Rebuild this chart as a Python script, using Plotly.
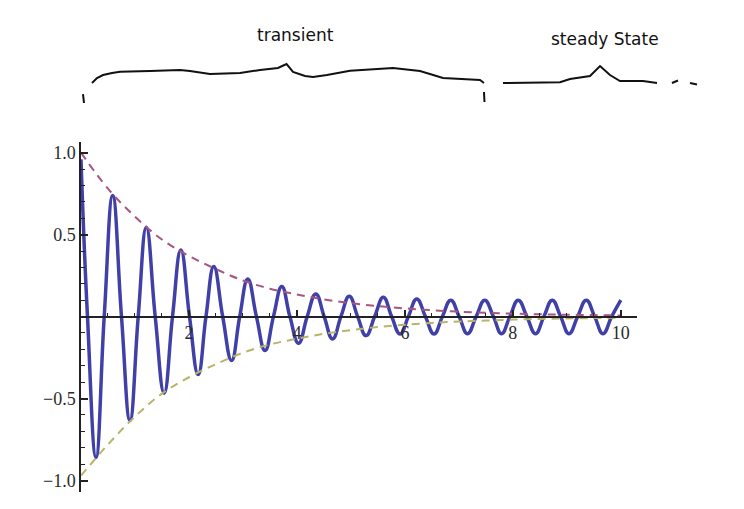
import plotly.graph_objects as go

# ---- data ----
# damped oscillation: extrema and zero crossings (t, y)
curve_t = [0.00, 0.12, 0.278, 0.43, 0.587, 0.75, 0.907, 1.06, 1.21, 1.375,
           1.54, 1.695, 1.85, 2.01, 2.17, 2.315, 2.46, 2.625, 2.79, 2.94,
           3.09, 3.25, 3.41, 3.565, 3.72, 3.87, 4.03, 4.19, 4.35, 4.505,
           4.66, 4.815, 4.97, 5.125, 5.28, 5.44, 5.60, 5.755, 5.91, 6.065,
           6.22, 6.38, 6.54, 6.695, 6.85, 7.005, 7.16, 7.32, 7.48, 7.64,
           7.79, 7.945, 8.10, 8.26, 8.42, 8.575, 8.73, 8.885, 9.04, 9.20,
           9.36, 9.515, 9.67, 9.83, 10.0]
curve_y = [0.96, 0.0, -0.858, 0.0, 0.738, 0.0, -0.634, 0.0, 0.545, 0.0,
           -0.467, 0.0, 0.406, 0.0, -0.354, 0.0, 0.305, 0.0, -0.268, 0.0,
           0.23, 0.0, -0.207, 0.0, 0.183, 0.0, -0.163, 0.0, 0.138, 0.0,
           -0.136, 0.0, 0.124, 0.0, -0.116, 0.0, 0.118, 0.0, -0.106, 0.0,
           0.108, 0.0, -0.106, 0.0, 0.10, 0.0, -0.104, 0.0, 0.10, 0.0,
           -0.104, 0.0, 0.10, 0.0, -0.104, 0.0, 0.10, 0.0, -0.104, 0.0,
           0.10, 0.0, -0.104, 0.0, 0.10]

# envelopes
env_t = [0, 0.5, 1, 1.5, 2, 2.5, 3, 3.5, 4, 4.5, 5, 5.5, 6, 6.5, 7, 7.5,
         8, 8.5, 9, 9.5, 10]
env_upper = [1.0, 0.78, 0.61, 0.47, 0.37, 0.29, 0.22, 0.17, 0.135, 0.105,
             0.082, 0.064, 0.05, 0.039, 0.03, 0.024, 0.018, 0.014, 0.011,
             0.009, 0.007]
env_lower = [-0.97, -0.78, -0.61, -0.47, -0.37, -0.29, -0.22, -0.17, -0.135,
             -0.105, -0.082, -0.064, -0.05, -0.039, -0.03, -0.024, -0.018,
             -0.014, -0.011, -0.009, -0.007]

x_tickvals = [2, 4, 6, 8, 10]
x_ticktext = ["2", "4", "6", "8", "10"]
y_tickvals = [-1.0, -0.5, 0.5, 1.0]
y_ticktext = ["\u22121.0", "\u22120.5", "0.5", "1.0"]

label_transient = "transient"
label_steady = "steady State"

# ---- figure ----
OFF = 8  # page body margin
W, H = 744 - OFF, 509 - OFF
L, R, T, B = 81 - OFF, 107, 142 - OFF, 17
PW, PH = W - L - R, H - T - B

fig = go.Figure()
fig.add_trace(go.Scatter(x=curve_t, y=curve_y, mode="lines",
                         line=dict(color="#4040a8", width=3.5, shape="spline",
                                   smoothing=1.3),
                         hoverinfo="skip", showlegend=False))
fig.add_trace(go.Scatter(x=env_t, y=env_upper, mode="lines",
                         line=dict(color="#a85580", width=2, dash="8px,6px",
                                   shape="spline"),
                         hoverinfo="skip", showlegend=False))
fig.add_trace(go.Scatter(x=env_t, y=env_lower, mode="lines",
                         line=dict(color="#b8b468", width=2, dash="8px,6px",
                                   shape="spline"),
                         hoverinfo="skip", showlegend=False))

tick_font = dict(family="Liberation Serif, DejaVu Serif, serif", size=18,
                 color="#2a2a2a")

fig.update_layout(
    width=W, height=H,
    margin=dict(l=L, r=R, t=T, b=B, pad=0),
    paper_bgcolor="white", plot_bgcolor="white",
    showlegend=False,
    xaxis=dict(range=[0, 10.3], showgrid=False, zeroline=False,
               showline=True, linecolor="#222", linewidth=1.5,
               anchor="free", position=1.07 / 2.135, side="bottom",
               tickmode="array", tickvals=x_tickvals, ticktext=x_ticktext,
               ticks="inside", ticklen=6, tickwidth=1.5, tickcolor="#222",
               tickfont=tick_font,
               minor=dict(dtick=0.5, tick0=0, ticks="inside", ticklen=3,
                          tickwidth=1.2, tickcolor="#222")),
    yaxis=dict(range=[-1.07, 1.065], showgrid=False, zeroline=False,
               showline=True, linecolor="#222", linewidth=1.5,
               tickmode="array", tickvals=y_tickvals, ticktext=y_ticktext,
               ticks="inside", ticklen=7, tickwidth=1.5, tickcolor="#222",
               tickfont=tick_font,
               minor=dict(dtick=0.1, tick0=0, ticks="inside", ticklen=4,
                          tickwidth=1.2, tickcolor="#222")),
)


def P(px, py):
    # convert reference-picture pixels to paper coordinates
    return (px - OFF - L) / PW, (H - B - (py - OFF)) / PH


def path(points):
    s = ""
    for i, (px, py) in enumerate(points):
        xp, yp = P(px, py)
        s += ("M" if i == 0 else "L") + f"{xp:.4f},{yp:.4f} "
    return s.strip()


brace_style = dict(type="path", xref="paper", yref="paper",
                   line=dict(color="#111", width=2), layer="above")

transient_brace = [(92, 83), (97, 78), (103, 75), (112, 73), (120, 71.7),
                   (150, 71), (180, 70), (190, 71), (210, 74), (240, 73),
                   (260, 70), (278, 68), (286.5, 64), (293, 72), (305, 76),
                   (313, 77), (327, 75), (350, 70.7), (393, 68), (420, 71),
                   (443, 78), (480, 80), (484, 83)]
steady_brace = [(503, 83), (560, 82.3), (570, 79), (590, 76), (600, 66),
                (610, 75), (620, 81), (643, 81), (657, 83)]
small_marks = [[(83, 94), (84, 103)], [(484, 92), (484.5, 102)],
               [(672, 83), (678, 80.5)], [(690, 83), (697, 84.5)]]

for pts in [transient_brace, steady_brace] + small_marks:
    fig.add_shape(path=path(pts), **brace_style)

hand_font = dict(family="DejaVu Sans, sans-serif", size=17, color="#111")
for txt, px, py in [(label_transient, 295, 35), (label_steady, 605, 39)]:
    xp, yp = P(px, py)
    fig.add_annotation(text=txt, x=xp, y=yp, xref="paper", yref="paper",
                       showarrow=False, font=hand_font,
                       xanchor="center", yanchor="middle")

fig.write_html("out.html")
